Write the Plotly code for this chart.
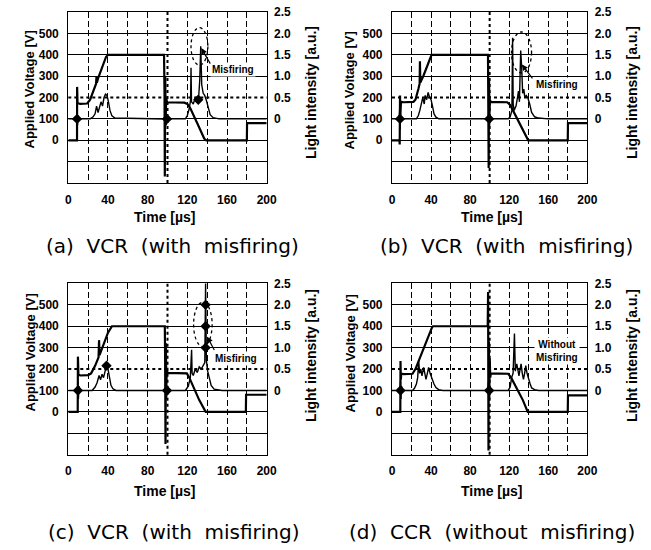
import plotly.graph_objects as go
from plotly.subplots import make_subplots

# ---------------- data ----------------
# axis ticks
time_ticks = [0, 40, 80, 120, 160, 200]
time_minor = [20, 60, 140, 180]
volt_ticks = [0, 100, 200, 300, 400, 500]
volt_grid = [-100, 0, 100, 300, 400, 500]
light_ticks = [0, 0.5, 1.0, 1.5, 2.0, 2.5]
light_ticktext = ["0", "0.5", "1.0", "1.5", "2.0", "2.5"]

# (a) VCR (with misfiring)
va_t = [0, 8.8, 8.9, 9.3, 12, 19, 22, 25, 28, 28.4, 28.8, 30, 34, 38, 40, 96.5, 97.0, 97.3, 97.7, 98.2, 98.7, 99.5, 105, 117, 120, 123, 130, 137, 139, 180, 180.2, 200]
va_v = [0, 0, 250, 175, 170, 172, 190, 225, 265, 300, 270, 290, 340, 390, 400, 400, 220, -170, 300, 100, 200, 178, 178, 176, 170, 150, 80, 8, 0, 0, 80, 80]
la_t = [0, 8.3, 8.8, 9.3, 9.8, 11, 22, 25, 27, 28.5, 30, 31.5, 33, 34.5, 36, 37.5, 39, 40.5, 42, 44, 47, 97, 98, 98.8, 99.6, 100.5, 102, 118, 120, 122, 123.3, 123.7, 124.2, 126, 128, 130, 131.5, 132.5, 133.5, 134.5, 136, 137.5, 139, 141, 143, 146, 152, 200]
la_l = [0, 0, 0.15, -0.15, 0.08, 0, 0, 0.05, 0.12, 0.3, 0.15, 0.28, 0.4, 0.3, 0.5, 0.58, 0.55, 0.4, 0.2, 0.07, 0.02, 0, 0.15, -0.15, 0.1, 0, 0, 0, 0.08, 0.25, 0.45, 1.2, 0.4, 0.35, 0.5, 0.45, 0.55, 0.9, 1.7, 0.8, 0.6, 0.55, 0.45, 0.25, 0.1, 0.03, 0, 0]
ma_t = [8.8, 99.5, 131]
ma_l = [0, 0, 0.45]

# (b) VCR (with misfiring)
vb_t = [0, 7.6, 7.9, 8.2, 8.6, 9.2, 12, 22, 24, 27, 28.3, 28.6, 29, 32, 36, 40.5, 98.3, 98.6, 99.0, 99.4, 99.8, 100.3, 101, 110, 118, 121, 126, 133, 139.5, 180, 180.2, 200]
vb_v = [0, 0, -20, 210, 120, 180, 178, 180, 190, 240, 265, 370, 270, 300, 350, 400, 400, 220, -130, 280, 120, 190, 180, 180, 178, 165, 120, 60, 0, 0, 80, 80]
lb_t = [0, 7.3, 7.8, 8.3, 8.8, 9.5, 25, 27, 28.5, 30, 31.5, 33, 34, 35.5, 37, 38.5, 40, 41.5, 43, 45, 48, 98.5, 99.2, 99.8, 100.5, 101.5, 119, 121, 122.8, 123.5, 124.1, 125, 127, 128.5, 129.5, 130.5, 131.8, 132.8, 133.8, 135, 136, 137.5, 139, 141, 143, 146, 150, 160, 200]
lb_l = [0, 0, 0.2, -0.25, 0.12, 0, 0, 0.08, 0.2, 0.35, 0.5, 0.35, 0.55, 0.45, 0.62, 0.5, 0.45, 0.3, 0.12, 0.04, 0, 0, 0.2, -0.2, 0.1, 0, 0, 0.05, 0.2, 1.9, 0.35, 0.2, 0.3, 0.5, 0.65, 0.4, 1.6, 1.2, 0.6, 0.7, 0.5, 0.55, 0.5, 0.35, 0.15, 0.05, 0.02, 0, 0]
mb_t = [8.2, 99.5]
mb_l = [0, 0]

# (c) VCR (with misfiring)
vc_t = [0, 9.5, 9.7, 10.2, 12, 20, 23, 27, 30.5, 31, 31.5, 35, 40, 44, 97.3, 97.6, 98, 98.4, 98.8, 99.3, 100, 110, 119.5, 122, 126, 132, 138.5, 179, 179.2, 200]
vc_v = [0, 0, 258, 175, 170, 172, 180, 215, 255, 335, 265, 310, 370, 400, 400, 250, -150, 320, 110, 200, 182, 182, 180, 160, 115, 55, 0, 0, 80, 80]
lc_t = [0, 9.2, 9.7, 10.2, 10.8, 12, 24, 27, 29, 31, 32.5, 34, 35.5, 37, 38.5, 40, 41.5, 43, 45, 48, 97.5, 98.3, 99, 99.8, 101, 118, 121, 123, 124.3, 124.8, 126, 128, 130, 132, 134, 136, 137.6, 138.4, 139.2, 140.5, 142, 144, 147, 155, 200]
lc_l = [0, 0, 0.2, -0.2, 0.1, 0, 0, 0.08, 0.18, 0.35, 0.25, 0.38, 0.3, 0.45, 0.58, 0.5, 0.3, 0.12, 0.04, 0, 0, 0.2, -0.2, 0.1, 0, 0, 0.1, 0.3, 0.95, 0.4, 0.35, 0.5, 0.42, 0.55, 0.5, 0.6, 0.65, 2.5, 0.7, 0.45, 0.3, 0.12, 0.03, 0, 0]
mc_t = [9.7, 99.5, 38.5, 138.4, 138.4, 138.4]
mc_l = [0, 0, 0.58, 2.0, 1.5, 1.0]

# (d) CCR (without misfiring)
vd_t = [0, 8.5, 8.7, 9.0, 9.5, 12, 21, 24, 30, 36, 41, 42, 98, 98.4, 98.8, 99.2, 99.6, 100.1, 100.6, 101.2, 110, 119, 122, 128, 134, 139, 180, 180.2, 200]
vd_v = [0, 0, 238, 150, 178, 176, 178, 200, 270, 340, 395, 400, 400, 560, -180, 330, 60, 250, 160, 180, 180, 178, 160, 110, 55, 0, 0, 77, 77]
ld_t = [0, 8.3, 8.7, 9.2, 9.7, 11, 21, 23, 25, 26.3, 27.3, 28.3, 29.5, 30.7, 32.4, 33.6, 34.8, 36.2, 37.5, 39, 40.9, 43, 45, 47.7, 52, 98, 98.8, 99.5, 100.3, 101.5, 119, 121, 122.5, 124, 125.4, 126.3, 127.8, 129, 130, 131.2, 132.2, 133.4, 134.6, 135.8, 137, 138.3, 139.7, 141.5, 143, 146, 150, 200]
ld_l = [0, 0, 0.22, -0.2, 0.1, 0, 0, 0.05, 0.15, 0.3, 0.7, 0.4, 0.5, 0.34, 0.54, 0.35, 0.26, 0.4, 0.54, 0.4, 0.26, 0.15, 0.07, 0.02, 0, 0, 0.2, -0.2, 0.1, 0, 0, 0.08, 0.3, 0.4, 1.33, 0.45, 0.62, 0.45, 0.34, 0.5, 0.62, 0.4, 0.26, 0.4, 0.58, 0.4, 0.26, 0.15, 0.06, 0.02, 0, 0]
md_t = [8.7, 99.5]
md_l = [0, 0]

captions = ["(a)\u00a0 VCR\u00a0 (with\u00a0 misfiring)", "(b)\u00a0 VCR\u00a0 (with\u00a0 misfiring)",
            "(c)\u00a0 VCR\u00a0 (with\u00a0 misfiring)", "(d)\u00a0 CCR\u00a0 (without\u00a0 misfiring)"]
# note text / arrow (tail, head) / ellipse (t0, t1, v0, v1), in data units
notes = ["Misfiring", "Misfiring", "Misfiring", "Without<br>Misfiring"]
note_pos = [(166, 333), (168.5, 262), (168.8, 251), (168.7, 285)]
arrows = [((144, 352), (134, 432)), ((145, 283), (133, 355)), ((148, 282), (140, 351)), None]
ellipses = [(123.7, 140.7, 352, 527), (122.4, 142.9, 315, 507), (126.3, 145, 305, 512), None]

# ---------------- figure ----------------
panels = [
    (1, 1, va_t, va_v, la_t, la_l, ma_t, ma_l),
    (1, 2, vb_t, vb_v, lb_t, lb_l, mb_t, mb_l),
    (2, 1, vc_t, vc_v, lc_t, lc_l, mc_t, mc_l),
    (2, 2, vd_t, vd_v, ld_t, ld_l, md_t, md_l),
]

W, H = 651, 550


def px(x):
    return x / W


def py(y):
    return 1 - y / H


fig = make_subplots(rows=2, cols=2, specs=[[{"secondary_y": True}] * 2] * 2)

for (r, c, vt, vv, lt, ll, mt, ml) in panels:
    fig.add_trace(go.Scatter(x=lt, y=ll, mode="lines", line=dict(color="black", width=1.4),
                             showlegend=False, hoverinfo="skip"), row=r, col=c, secondary_y=True)
    fig.add_trace(go.Scatter(x=mt, y=ml, mode="markers",
                             marker=dict(symbol="diamond", size=8, color="black"),
                             showlegend=False, hoverinfo="skip"), row=r, col=c, secondary_y=True)
    fig.add_trace(go.Scatter(x=vt, y=vv, mode="lines", line=dict(color="black", width=2.2),
                             showlegend=False, hoverinfo="skip"), row=r, col=c, secondary_y=False)

xdom = {1: [px(68.3), px(266.7)], 2: [px(392.0), px(587.3)]}
ydom = {1: [py(183.0), py(11.7)], 2: [py(454.7), py(283.0)]}

tickfont = dict(family="Liberation Sans", size=12, color="black", weight="bold")
for r in (1, 2):
    for c in (1, 2):
        fig.update_xaxes(range=[0, 200], domain=xdom[c], tickvals=time_ticks,
                         ticktext=[str(v) for v in time_ticks], tickfont=tickfont,
                         ticks="outside", ticklen=5, tickcolor="rgba(0,0,0,0)",
                         showgrid=True, gridcolor="black", gridwidth=1.2, griddash="6px,3px",
                         minor=dict(tickvals=time_minor, showgrid=True, gridcolor="black",
                                    gridwidth=1.2, griddash="6px,3px", ticks=""),
                         showline=True, linecolor="black", linewidth=1.2, mirror=True,
                         zeroline=False, row=r, col=c)
        fig.update_yaxes(range=[-200, 602], domain=ydom[r], tickvals=volt_ticks,
                         ticktext=[str(v) for v in volt_ticks], tickfont=tickfont,
                         ticks="outside", ticklen=6, tickcolor="rgba(0,0,0,0)",
                         showgrid=False,
                         minor=dict(tickvals=volt_grid, showgrid=True, gridcolor="black",
                                    gridwidth=1.2, ticks=""),
                         showline=True, linecolor="black", linewidth=1.2, mirror=True,
                         zeroline=False, row=r, col=c, secondary_y=False)
        fig.update_yaxes(range=[-1.5, 2.51], tickvals=light_ticks, ticktext=light_ticktext,
                         tickfont=tickfont, ticks="outside", ticklen=4, ticklabeloverflow="allow",
                         tickcolor="rgba(0,0,0,0)", showgrid=False, zeroline=False,
                         showline=False, row=r, col=c, secondary_y=True)
        # centre graticule lines (dotted)
        fig.add_vline(x=100, line=dict(color="black", width=2, dash="dot"), row=r, col=c)
        fig.add_hline(y=200, line=dict(color="black", width=2, dash="dot"), row=r, col=c)

xrefs = ["x", "x2", "x3", "x4"]
yrefs = ["y", "y3", "y5", "y7"]
for i in range(4):
    tx, ty = note_pos[i]
    fig.add_annotation(x=tx, y=ty, xref=xrefs[i], yref=yrefs[i], text=notes[i], showarrow=False,
                       xanchor="center", yanchor="middle",
                       font=dict(family="Liberation Sans", size=10, color="black", weight="bold"),
                       bgcolor="white", borderpad=1)
    if arrows[i]:
        (t0, v0), (t1, v1) = arrows[i]
        fig.add_annotation(x=t1, y=v1, ax=t0, ay=v0, xref=xrefs[i], yref=yrefs[i],
                           axref=xrefs[i], ayref=yrefs[i], text="", showarrow=True,
                           arrowhead=2, arrowsize=1, arrowwidth=1.2, arrowcolor="black")
    if ellipses[i]:
        e0, e1, e2, e3 = ellipses[i]
        fig.add_shape(type="circle", x0=e0, x1=e1, y0=e2, y1=e3, xref=xrefs[i], yref=yrefs[i],
                      line=dict(color="black", width=1.3, dash="dot"))

# axis titles and captions (pixel positions of the reference)
title_font = dict(family="Liberation Sans", size=13, color="black", weight="bold")
rtitle_font = dict(family="Liberation Sans", size=14, color="black", weight="bold")
cap_font = dict(family="DejaVu Sans", size=20, color="black")
left_x = {1: 29.5, 2: 349.5}
right_x = {1: 311.0, 2: 632.0}
row_cy = {1: 90.0, 2: 353.0}
time_x = {1: 165.0, 2: 492.0}
time_y = {1: 217.0, 2: 491.0}
cap_pos = [(173.0, 246.0), (506.0, 246.0), (174.0, 532.0), (492.0, 532.0)]


def paper_text(x, y, text, font, angle=0):
    fig.add_annotation(x=px(x), y=py(y), xref="paper", yref="paper", text=text,
                       textangle=angle, showarrow=False, font=font,
                       xanchor="center", yanchor="middle")


k = 0
for r in (1, 2):
    for c in (1, 2):
        paper_text(left_x[c], row_cy[r], "Applied Voltage [V]", title_font, -90)
        paper_text(right_x[c], row_cy[r] + 3, "Light intensity [a.u.]", rtitle_font, -90)
        paper_text(time_x[c], time_y[r], "Time [\u00b5s]", rtitle_font)
        paper_text(cap_pos[k][0], cap_pos[k][1], captions[k], cap_font)
        k += 1

fig.update_layout(width=W, height=H, margin=dict(l=0, r=0, t=0, b=0, autoexpand=False),
                  paper_bgcolor="white", plot_bgcolor="white",
                  font=dict(family="Liberation Sans", color="black"), showlegend=False)
fig.write_html("out.html", config={"displayModeBar": False},
               post_script="document.body.style.margin='0';document.body.style.overflow='hidden';")
